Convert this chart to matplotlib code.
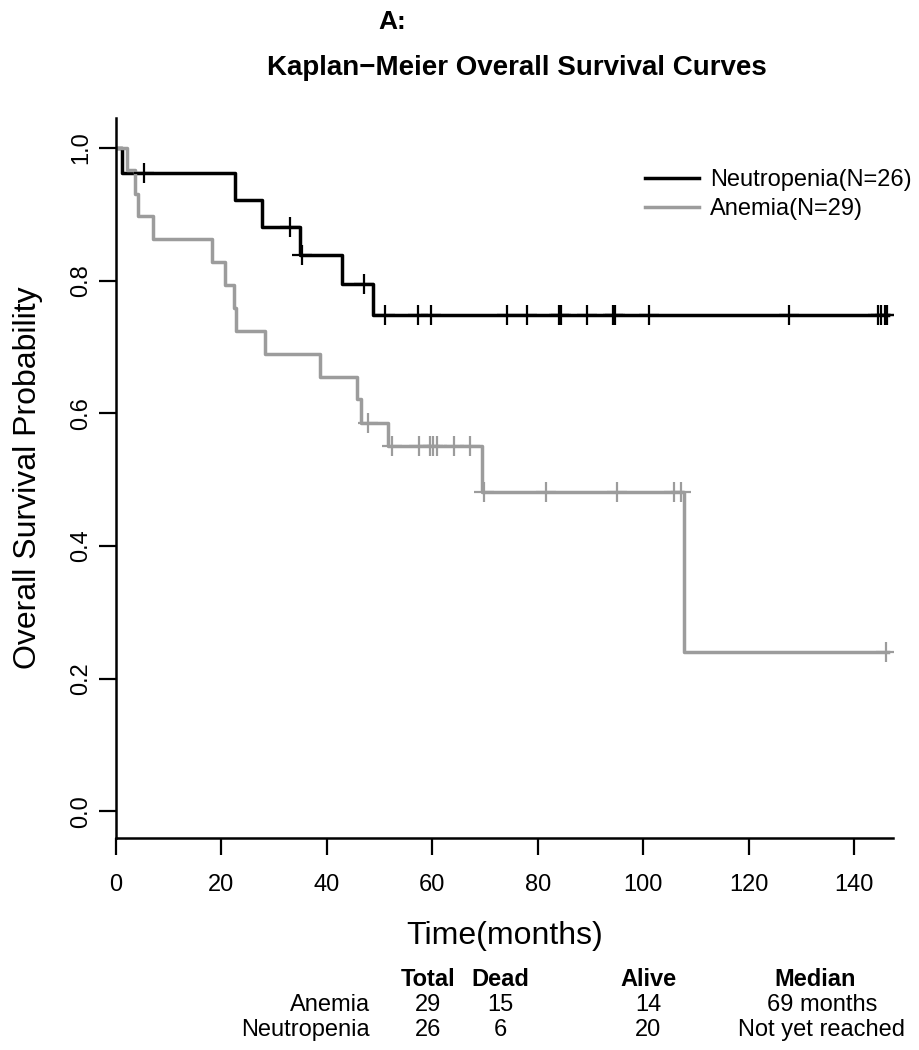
import numpy as np
import matplotlib
matplotlib.use("Agg")
from matplotlib import pyplot as plt

plt.rcParams['font.family'] = ['Liberation Sans', 'DejaVu Sans']

# Kaplan-Meier steps (months, survival probability)
neut_time = [0, 1.2, 22.6, 27.7, 34.9, 42.9, 48.7, 146.4]
neut_surv = [1.0, 0.962, 0.921, 0.881, 0.839, 0.795, 0.748, 0.748]
neut_cens = [5.3, 33.0, 35.3, 47.1, 51.1, 57.3, 59.7, 74.2, 78.0, 84.1, 84.4,
             89.4, 94.3, 94.7, 101.1, 127.7, 144.6, 145.2, 145.9, 146.2]

anem_time = [0, 2.0, 3.6, 4.2, 7.0, 18.2, 20.7, 22.4, 22.8, 28.3, 38.7, 45.7,
             46.5, 51.6, 69.4, 107.8, 146.4]
anem_surv = [1.0, 0.966, 0.931, 0.897, 0.862, 0.828, 0.793, 0.759, 0.724, 0.690,
             0.655, 0.621, 0.586, 0.550, 0.481, 0.240, 0.240]
anem_cens = [47.8, 52.4, 57.5, 59.6, 60.1, 60.9, 64.1, 67.2, 69.8, 81.6, 95.1,
             105.9, 107.2, 146.1]

groups = ['Anemia', 'Neutropenia']
total = [29, 26]
dead = [15, 6]
alive = [14, 20]
median = ['69 months', 'Not yet reached']

BLACK = 'black'
GRAY = '#9c9c9c'


def cens_levels(times, surv, cens):
    idx = np.searchsorted(times, cens, side='right') - 1
    return np.array(surv)[idx]


W, H = 920, 1050
fig = plt.figure(figsize=(W / 100, H / 100), dpi=100)
ax = fig.add_axes([116 / W, 1 - 838 / H, (893 - 116) / W, (838 - 118) / H])

ax.step(neut_time, neut_surv, where='post', color=BLACK, lw=2.5,
        label='Neutropenia(N=26)')
ax.step(anem_time, anem_surv, where='post', color=GRAY, lw=2.5,
        label='Anemia(N=29)')
ax.plot(neut_cens, cens_levels(neut_time, neut_surv, neut_cens), ls='none',
        marker='+', ms=14, mew=1.6, color=BLACK)
ax.plot(anem_cens, cens_levels(anem_time, anem_surv, anem_cens), ls='none',
        marker='+', ms=14, mew=1.6, color=GRAY)

ax.set_xlim(0, 147.4)
ax.set_ylim(-0.04, 1.045)
ax.spines['top'].set_visible(False)
ax.spines['right'].set_visible(False)
for s in ['left', 'bottom']:
    ax.spines[s].set_linewidth(1.8)
ax.set_xticks(np.arange(0, 141, 20))
ax.set_yticks(np.arange(0, 1.01, 0.2))
ax.set_yticklabels([f'{v:.1f}' for v in np.arange(0, 1.01, 0.2)],
                   rotation=90, va='center')
ax.tick_params(direction='out', length=12, width=1.6, labelsize=17)
ax.tick_params(axis='x', pad=14)
ax.tick_params(axis='y', pad=5)

ax.set_xlabel('Time(months)', fontsize=23, labelpad=18)
ax.set_ylabel('Overall Survival Probability', fontsize=23, labelpad=20)

ax.legend(loc='upper left', bbox_to_anchor=(645 / W, 1 - 169 / H),
          bbox_transform=fig.transFigure, frameon=False, fontsize=17,
          handlelength=2.3, handletextpad=0.45, labelspacing=0.3,
          borderpad=0, borderaxespad=0)

fig.text(392 / W, 1 - 22 / H, 'A:', ha='center', va='center',
         fontsize=19, fontweight='bold')
fig.text(517 / W, 1 - 68 / H, 'Kaplan\u2212Meier Overall Survival Curves',
         ha='center', va='center', fontsize=20, fontweight='bold')

# summary table under the plot
col_x = [428, 500, 648, 822]
hy = 1 - 980 / H
fig.text(col_x[0] / W, hy, 'Total', ha='center', va='center',
         fontsize=17, fontweight='bold')
fig.text(col_x[1] / W, hy, 'Dead', ha='center', va='center',
         fontsize=17, fontweight='bold')
fig.text(col_x[2] / W, hy, 'Alive', ha='center', va='center',
         fontsize=17, fontweight='bold')
fig.text(815 / W, hy, 'Median', ha='center', va='center',
         fontsize=17, fontweight='bold')
for i, g in enumerate(groups):
    y = 1 - (1005 + 25 * i) / H
    fig.text(370 / W, y, g, ha='right', va='center', fontsize=17)
    fig.text(col_x[0] / W, y, str(total[i]), ha='center', va='center', fontsize=17)
    fig.text(col_x[1] / W, y, str(dead[i]), ha='center', va='center', fontsize=17)
    fig.text(col_x[2] / W, y, str(alive[i]), ha='center', va='center', fontsize=17)
    fig.text(col_x[3] / W, y, median[i], ha='center', va='center', fontsize=17)

fig.savefig('out.png', dpi=100)
